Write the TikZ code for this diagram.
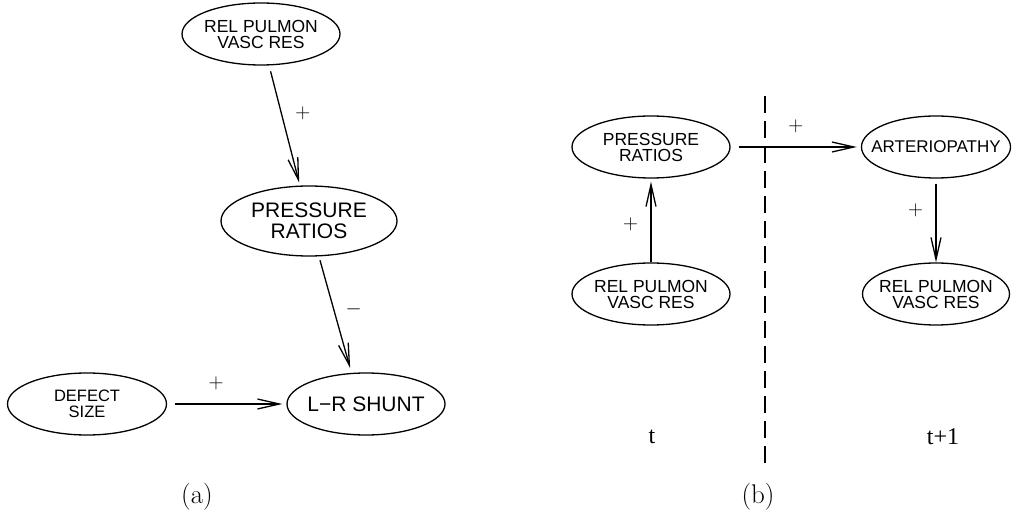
\documentclass[tikz,border=0pt]{standalone}
\usepackage{fontspec}
\usetikzlibrary{shapes.geometric,arrows.meta}
\newfontfamily\helv{Liberation Sans}
\newfontfamily\tms{Liberation Serif}
\tikzset{
  var/.style={draw, ellipse, line width=1.3pt, inner ysep=0pt, inner xsep=-12pt,
    minimum width=158pt, minimum height=62pt, align=center,
    font=\helv\fontsize{17.5}{16}\selectfont},
  arr/.style={-{Straight Barb[length=22pt,width=10pt]}, line width=1.3pt},
  sgn/.style={font=\fontsize{20}{20}\selectfont},
  slice/.style={line width=1.3pt, dash pattern=on 17pt off 8pt},
}

\begin{document}
\begin{tikzpicture}[x=1pt,y=1pt]
  \useasboundingbox (0,0) rectangle (1019,-526);
  % (a)
  \node[var] (relA) at (261,-34) {REL PULMON\\VASC RES};
  \node[var, minimum width=176pt, minimum height=70pt,
        font=\helv\fontsize{21}{21}\selectfont] (presA) at (309,-221) {PRESSURE\\RATIOS};
  \node[var, font=\helv\fontsize{21}{21}\selectfont] (shunt) at (366,-404) {L−R SHUNT};
  \node[var, minimum width=159pt, font=\helv\fontsize{16.5}{16}\selectfont] (defect) at (87,-404) {DEFECT\\SIZE};
  \draw[arr, shorten <=6pt, shorten >=3pt] (relA) -- (presA)
    node[sgn, pos=0.4, right=10pt] {$+$};
  \draw[arr, shorten <=4pt, shorten >=5pt] (presA) -- (shunt.115)
    node[sgn, pos=0.45, right=8pt] {$-$};
  \draw[arr, shorten <=8pt, shorten >=4pt] (defect) -- (shunt)
    node[sgn, pos=0.41, above=10pt] {$+$};
  \node[font=\fontsize{27}{27}\selectfont] (capA) at (197,-497) {(a)};
  % (b)
  \node[var] (presB) at (651,-147) {PRESSURE\\RATIOS};
  \node[var] (relB) at (651,-294) {REL PULMON\\VASC RES};
  \node[var, minimum width=147pt, font=\helv\fontsize{17}{16}\selectfont] (arterio) at (936,-147) {ARTERIOPATHY};
  \node[var, minimum width=147pt] (relC) at (936,-294) {REL PULMON\\VASC RES};
  \draw[arr, shorten <=8pt, shorten >=4pt] (presB) -- (arterio)
    node[sgn, pos=0.5, above=10pt] {$+$};
  \draw[arr, shorten >=3pt] (relB) -- (presB)
    node[sgn, pos=0.45, left=9pt] {$+$};
  \draw[arr, shorten <=5pt] (arterio) -- (relC)
    node[sgn, pos=0.38, left=9pt] {$+$};
  \coordinate (sepTop) at (765,-96);
  \coordinate (sepBot) at (765,-465);
  \draw[slice] (sepTop) -- (sepBot);
  \node[font=\tms\fontsize{24}{24}\selectfont] (tNow) at (652,-437) {t};
  \node[font=\tms\fontsize{24}{24}\selectfont] (tNext) at (943,-437) {t+1};
  \node[font=\fontsize{27}{27}\selectfont] (capB) at (758,-497) {(b)};
\end{tikzpicture}
\end{document}
